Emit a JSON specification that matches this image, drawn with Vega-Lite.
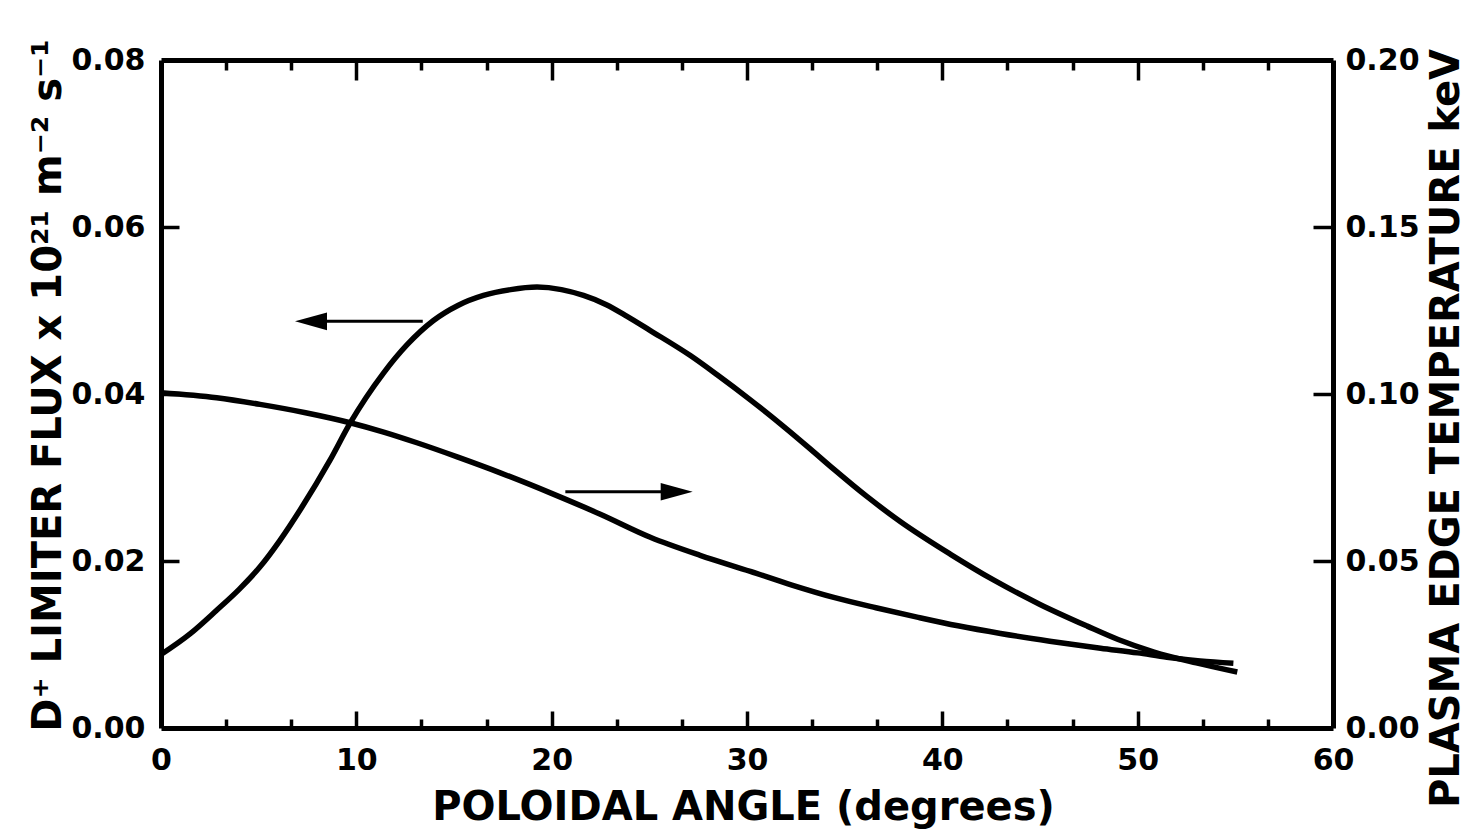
{
  "$schema": "https://vega.github.io/schema/vega-lite/v6.json",
  "width": 1172,
  "height": 668,
  "autosize": {"type": "none"},
  "padding": {"left": 161, "top": 60, "right": 140, "bottom": 102},
  "background": "white",
  "config": {
    "view": {"stroke": null},
    "font": "DejaVu Sans",
    "axis": {
      "grid": false,
      "domainColor": "black",
      "domainWidth": 5,
      "tickColor": "black",
      "tickWidth": 3.5,
      "labelFont": "DejaVu Sans",
      "labelFontWeight": "bold",
      "labelFontSize": 30,
      "labelColor": "black",
      "titleFont": "DejaVu Sans",
      "titleFontWeight": "bold",
      "titleFontSize": 40,
      "titleColor": "black",
      "labelOverlap": false,
      "labelFlush": false
    }
  },
  "datasets": {
    "flux": [
      {"angle": 0, "flux": 0.0088},
      {"angle": 1.5, "flux": 0.0113},
      {"angle": 2.85, "flux": 0.0141},
      {"angle": 4, "flux": 0.0166},
      {"angle": 5.07, "flux": 0.0193},
      {"angle": 6.1, "flux": 0.0225},
      {"angle": 7.12, "flux": 0.0261},
      {"angle": 8.66, "flux": 0.0321},
      {"angle": 9.68, "flux": 0.0365},
      {"angle": 11.39, "flux": 0.0425},
      {"angle": 12.6, "flux": 0.0459},
      {"angle": 13.95, "flux": 0.0488},
      {"angle": 15.2, "flux": 0.0506},
      {"angle": 16.51, "flux": 0.0518},
      {"angle": 17.9, "flux": 0.0525},
      {"angle": 19.25, "flux": 0.0528},
      {"angle": 20.5, "flux": 0.0525},
      {"angle": 21.63, "flux": 0.0518},
      {"angle": 22.8, "flux": 0.0507},
      {"angle": 23.86, "flux": 0.0493},
      {"angle": 25.05, "flux": 0.0476},
      {"angle": 27.1, "flux": 0.0446},
      {"angle": 28.47, "flux": 0.0423},
      {"angle": 30.17, "flux": 0.0393},
      {"angle": 31.88, "flux": 0.0361},
      {"angle": 33.25, "flux": 0.0334},
      {"angle": 34.44, "flux": 0.031},
      {"angle": 36.15, "flux": 0.0277},
      {"angle": 37.86, "flux": 0.0247},
      {"angle": 40.42, "flux": 0.0208},
      {"angle": 42.64, "flux": 0.0177},
      {"angle": 45, "flux": 0.0148},
      {"angle": 47.42, "flux": 0.0122},
      {"angle": 49, "flux": 0.0106},
      {"angle": 50.84, "flux": 0.0091},
      {"angle": 53, "flux": 0.0078},
      {"angle": 55.1, "flux": 0.0067}
    ],
    "temp": [
      {"angle": 0, "temp": 0.1004},
      {"angle": 2.85, "temp": 0.0989},
      {"angle": 5.07, "temp": 0.0969},
      {"angle": 7.4, "temp": 0.0944},
      {"angle": 9.68, "temp": 0.0914},
      {"angle": 11.4, "temp": 0.0886},
      {"angle": 13.1, "temp": 0.0854},
      {"angle": 15.2, "temp": 0.0811},
      {"angle": 17.37, "temp": 0.0764},
      {"angle": 19.93, "temp": 0.0704},
      {"angle": 22.49, "temp": 0.064},
      {"angle": 25.05, "temp": 0.0571},
      {"angle": 27.6, "temp": 0.0517},
      {"angle": 30.17, "temp": 0.0469},
      {"angle": 32.3, "temp": 0.0428},
      {"angle": 34.44, "temp": 0.0391},
      {"angle": 36.6, "temp": 0.036},
      {"angle": 38.71, "temp": 0.0332},
      {"angle": 40.8, "temp": 0.0306},
      {"angle": 42.98, "temp": 0.0283},
      {"angle": 45.5, "temp": 0.026},
      {"angle": 48.1, "temp": 0.0239},
      {"angle": 50, "temp": 0.0225},
      {"angle": 51.5, "temp": 0.0212},
      {"angle": 53.2, "temp": 0.0201},
      {"angle": 54.9, "temp": 0.0194}
    ],
    "arrows": [
      {"start": 13.4, "end": 7.7, "level": 0.0487},
      {"start": 20.7, "end": 25.6, "level": 0.0283}
    ],
    "heads": [
      {"angle": 7.68, "level": 0.0487, "dir": "left"},
      {"angle": 26.4, "level": 0.0283, "dir": "right"}
    ]
  },
  "layer": [
    {
      "data": {"name": "flux"},
      "mark": {"type": "line", "interpolate": "monotone", "color": "black", "strokeWidth": 5.5},
      "encoding": {
        "x": {
          "field": "angle", "type": "quantitative",
          "scale": {"domain": [0, 60], "nice": false, "zero": false},
          "axis": {
            "orient": "bottom",
            "values": [0, 10, 20, 30, 40, 50, 60],
            "ticks": false,
            "labelPadding": 17,
            "title": "POLOIDAL ANGLE (degrees)",
            "titleBaseline": "alphabetic",
            "titleY": 91,
            "titleX": 582
          }
        },
        "y": {
          "field": "flux", "type": "quantitative",
          "scale": {"domain": [0, 0.08], "nice": false},
          "axis": {
            "orient": "left",
            "values": [0, 0.02, 0.04, 0.06, 0.08],
            "format": ".2f",
            "ticks": false,
            "labelPadding": 16,
            "title": "D⁺ LIMITER FLUX x 10²¹ m⁻² s⁻¹",
            "titleAngle": 270,
            "titleAlign": "center",
            "titleBaseline": "alphabetic",
            "titleX": -101,
            "titleY": 325
          }
        }
      }
    },
    {
      "data": {"name": "temp"},
      "mark": {"type": "line", "interpolate": "monotone", "color": "black", "strokeWidth": 5.5},
      "encoding": {
        "x": {
          "field": "angle", "type": "quantitative",
          "axis": {
            "orient": "bottom",
            "offset": -17,
            "values": [10, 20, 30, 40, 50],
            "tickSize": 17,
            "labels": false,
            "domain": false,
            "title": null
          }
        },
        "y": {
          "field": "temp", "type": "quantitative",
          "scale": {"domain": [0, 0.2], "nice": false},
          "axis": {
            "orient": "right",
            "values": [0, 0.05, 0.1, 0.15, 0.2],
            "format": ".2f",
            "ticks": false,
            "labelPadding": 12,
            "title": "PLASMA EDGE TEMPERATURE keV",
            "titleAngle": 270,
            "titleAlign": "center",
            "titleBaseline": "alphabetic",
            "titleX": 125,
            "titleY": 368
          }
        }
      }
    },
    {
      "data": {"name": "arrows"},
      "mark": {"type": "rule", "color": "black", "strokeWidth": 3},
      "encoding": {
        "x": {
          "field": "start", "type": "quantitative",
          "axis": {
            "orient": "bottom",
            "offset": -9,
            "values": [3.333, 6.667, 13.333, 16.667, 23.333, 26.667, 33.333, 36.667, 43.333, 46.667, 53.333, 56.667],
            "tickSize": 9,
            "labels": false,
            "domain": false,
            "title": null
          }
        },
        "x2": {"field": "end"},
        "y": {
          "field": "level", "type": "quantitative",
          "scale": {"domain": [0, 0.08], "nice": false},
          "axis": {
            "orient": "left",
            "offset": -18,
            "values": [0.02, 0.04, 0.06],
            "tickSize": 18,
            "labels": false,
            "domain": false,
            "title": null
          }
        }
      }
    },
    {
      "data": {"name": "heads"},
      "mark": {"type": "point", "filled": true, "color": "black", "opacity": 1, "size": 1024},
      "encoding": {
        "x": {
          "field": "angle", "type": "quantitative",
          "axis": {
            "orient": "top",
            "ticks": false,
            "labels": false,
            "title": null
          }
        },
        "y": {
          "field": "level", "type": "quantitative",
          "scale": {"domain": [0, 0.08], "nice": false},
          "axis": {
            "orient": "right",
            "offset": -20,
            "values": [0.02, 0.04, 0.06],
            "tickSize": 20,
            "labels": false,
            "domain": false,
            "title": null
          }
        },
        "shape": {
          "field": "dir", "type": "nominal",
          "scale": {"domain": ["left", "right"], "range": ["M -1 0 L 1 -0.55 L 1 0.55 Z", "M 1 0 L -1 -0.55 L -1 0.55 Z"]},
          "legend": null
        }
      }
    },
    {
      "data": {"name": "heads"},
      "mark": {"type": "point", "filled": true, "color": "black", "opacity": 0, "size": 10},
      "encoding": {
        "x": {
          "field": "angle", "type": "quantitative",
          "axis": {
            "orient": "top",
            "offset": -20,
            "values": [10, 20, 30, 40, 50],
            "tickSize": 20,
            "labels": false,
            "domain": false,
            "title": null
          }
        },
        "y": {
          "field": "level", "type": "quantitative",
          "scale": {"domain": [0, 0.08], "nice": false},
          "axis": null
        }
      }
    },
    {
      "data": {"name": "heads"},
      "mark": {"type": "point", "filled": true, "color": "black", "opacity": 0, "size": 10},
      "encoding": {
        "x": {
          "field": "angle", "type": "quantitative",
          "axis": {
            "orient": "top",
            "offset": -10,
            "values": [3.333, 6.667, 13.333, 16.667, 23.333, 26.667, 33.333, 36.667, 43.333, 46.667, 53.333, 56.667],
            "tickSize": 10,
            "labels": false,
            "domain": false,
            "title": null
          }
        },
        "y": {
          "field": "level", "type": "quantitative",
          "scale": {"domain": [0, 0.08], "nice": false},
          "axis": null
        }
      }
    }
  ],
  "resolve": {
    "scale": {"y": "independent"},
    "axis": {"x": "independent", "y": "independent"}
  }
}
